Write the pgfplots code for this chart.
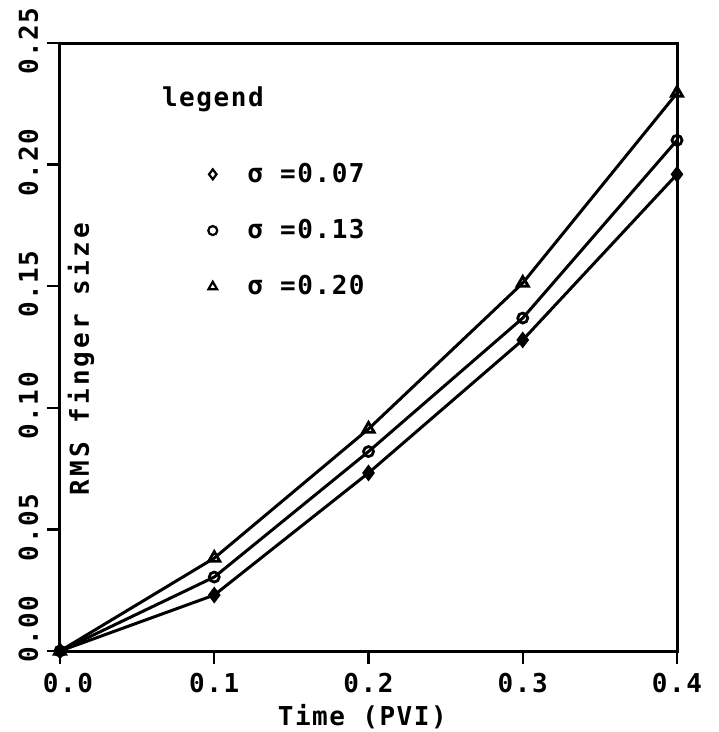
\documentclass[border=0pt]{standalone}
\usepackage{fontspec}
\setmainfont{DejaVu Sans Mono}[LetterSpace=6, UprightFont=* Bold]
\usepackage{pgfplots}
\pgfplotsset{compat=1.18}
\begin{document}
\fontsize{26}{30}\selectfont
\begin{tikzpicture}
\path[use as bounding box] (-60pt,-81pt) rectangle (659pt,651pt);
\begin{axis}[
  scale only axis, width=617pt, height=608pt,
  xmin=0, xmax=0.4, ymin=0, ymax=0.25,
  xtick={0,0.1,0.2,0.3,0.4},
  xticklabels={\hspace*{16pt}0.0,0.1,0.2,0.3,0.4},
  ytick={0,0.05,0.1,0.15,0.2,0.25},
  yticklabels={\hspace*{40pt}0.00,0.05,0.10,0.15,0.20,0.25},
  xtick pos=bottom, ytick pos=left,
  tick align=outside, major tick length=13pt,
  tick style={line width=2.5pt, black},
  axis line style={line width=3pt},
  tick label style={font=\fontsize{26}{30}\selectfont},
  yticklabel style={rotate=90, anchor=south, xshift=2pt},
  xlabel={Time (PVI)},
  xlabel style={font=\fontsize{26}{30}\selectfont, at={(axis description cs:0.49,0)}, anchor=north, yshift=-44pt},
  ylabel={RMS finger size},
  ylabel style={font=\fontsize{26}{30}\selectfont\addfontfeature{LetterSpace=12}, at={(axis description cs:0.034,0.48)}, anchor=center},
  legend style={at={(axis description cs:0.24,0.805)}, anchor=north west, draw=none, fill=none,
    font=\fontsize{26}{30}\selectfont, row sep=31pt, inner sep=0pt,
    nodes={inner sep=1pt},
    /tikz/every odd column/.append style={column sep=29pt}},
  legend cell align=left,
]
\addlegendimage{only marks, mark=diamond, mark size=5pt, line width=2.2pt}
\addlegendentry{σ =0.07}
\addlegendimage{only marks, mark=o, mark size=4.5pt, line width=2.2pt}
\addlegendentry{σ =0.13}
\addlegendimage{only marks, mark=triangle, mark size=5pt, line width=2.2pt}
\addlegendentry{σ =0.20}

\addplot[forget plot, line width=3pt, mark=diamond*, mark size=6pt] coordinates {
  (0,0) (0.1,0.0230) (0.2,0.0732) (0.3,0.1279) (0.4,0.196)};
\addplot[forget plot, line width=3pt, mark=o, mark size=5pt, mark options={line width=2.8pt}] coordinates {
  (0,0) (0.1,0.0304) (0.2,0.0820) (0.3,0.1369) (0.4,0.210)};
\addplot[forget plot, line width=3pt, mark=triangle, mark size=6.5pt, mark options={line width=2.8pt}] coordinates {
  (0,0) (0.1,0.0382) (0.2,0.0913) (0.3,0.1513) (0.4,0.2294)};

\node[anchor=base west, inner sep=0pt, font=\fontsize{26}{30}\selectfont] at (axis description cs:0.165,0.895) {legend};
\end{axis}
\end{tikzpicture}
\end{document}
